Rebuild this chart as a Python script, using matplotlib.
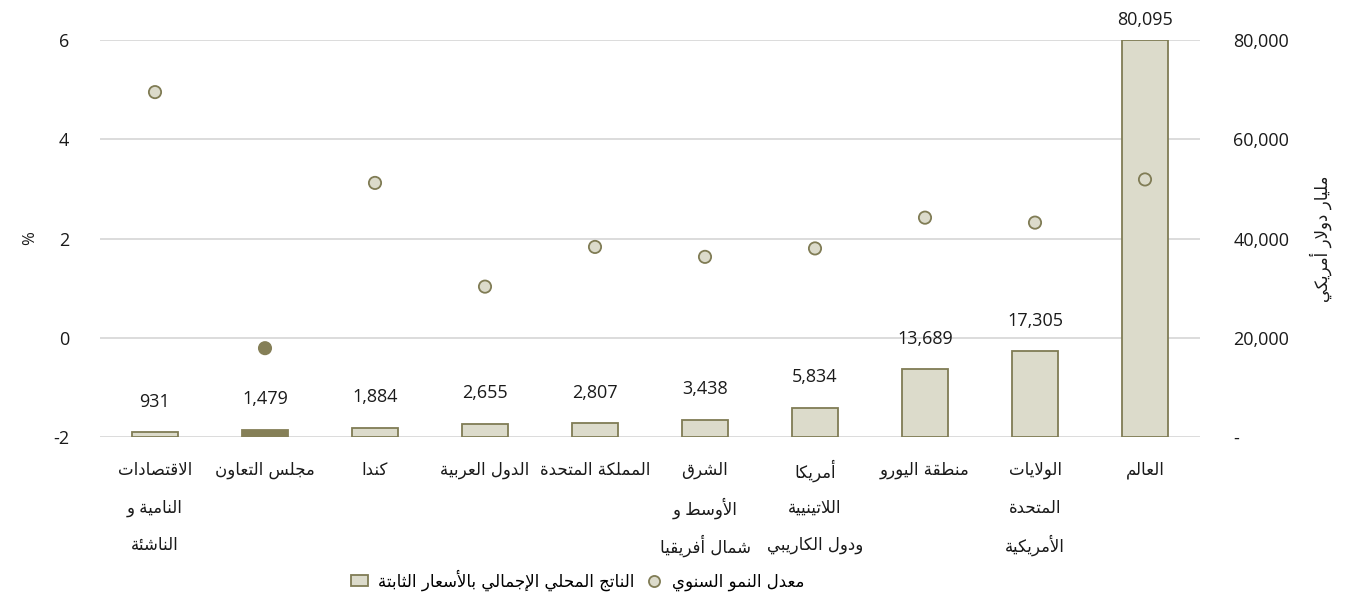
import matplotlib
matplotlib.use('Agg')
import matplotlib.pyplot as plt
from matplotlib.ticker import FuncFormatter
from matplotlib.patches import Patch
from matplotlib.lines import Line2D

# ── data ──
regions = [
    "الاقتصادات\nالنامية و\nالناشئة",
    "مجلس التعاون",
    "كندا",
    "الدول العربية",
    "المملكة المتحدة",
    "الشرق\nالأوسط و\nشمال أفريقيا",
    "أمريكا\nاللاتينيية\nودول الكاريبي",
    "منطقة اليورو",
    "الولايات\nالمتحدة\nالأمريكية",
    "العالم",
]
gdp_bn_usd = [931, 1479, 1884, 2655, 2807, 3438, 5834, 13689, 17305, 80095]
growth_pct = [4.95, -0.21, 3.12, 1.03, 1.83, 1.63, 1.80, 2.42, 2.32, 3.19]
highlight = "مجلس التعاون"

label_gdp = "الناتج المحلي الإجمالي بالأسعار الثابتة"
label_growth = "معدل النمو السنوي"
ylabel_left = "%"
ylabel_right = "مليار دولار أمريكي"

# ── arabic shaping (matplotlib has no bidi / joining) ──
_FORMS = {
    'ء': (0xFE80, 1), 'آ': (0xFE81, 2), 'أ': (0xFE83, 2), 'ؤ': (0xFE85, 2),
    'إ': (0xFE87, 2), 'ئ': (0xFE89, 4), 'ا': (0xFE8D, 2), 'ب': (0xFE8F, 4),
    'ة': (0xFE93, 2), 'ت': (0xFE95, 4), 'ث': (0xFE99, 4), 'ج': (0xFE9D, 4),
    'ح': (0xFEA1, 4), 'خ': (0xFEA5, 4), 'د': (0xFEA9, 2), 'ذ': (0xFEAB, 2),
    'ر': (0xFEAD, 2), 'ز': (0xFEAF, 2), 'س': (0xFEB1, 4), 'ش': (0xFEB5, 4),
    'ص': (0xFEB9, 4), 'ض': (0xFEBD, 4), 'ط': (0xFEC1, 4), 'ظ': (0xFEC5, 4),
    'ع': (0xFEC9, 4), 'غ': (0xFECD, 4), 'ف': (0xFED1, 4), 'ق': (0xFED5, 4),
    'ك': (0xFED9, 4), 'ل': (0xFEDD, 4), 'م': (0xFEE1, 4), 'ن': (0xFEE5, 4),
    'ه': (0xFEE9, 4), 'و': (0xFEED, 2), 'ى': (0xFEEF, 2), 'ي': (0xFEF1, 4),
}
_LAM_ALEF = {'آ': 0xFEF5, 'أ': 0xFEF7, 'إ': 0xFEF9, 'ا': 0xFEFB}


def shape_line(line):
    units = []
    i = 0
    while i < len(line):
        c = line[i]
        if c == 'ل' and i + 1 < len(line) and line[i + 1] in _LAM_ALEF:
            units.append((_LAM_ALEF[line[i + 1]], 2))
            i += 2
            continue
        units.append(_FORMS.get(c, c))
        i += 1
    out = []
    for k, u in enumerate(units):
        if isinstance(u, str):
            out.append(u)
            continue
        start, n = u
        prev = units[k - 1] if k > 0 else None
        nxt = units[k + 1] if k + 1 < len(units) else None
        jp = isinstance(prev, tuple) and prev[1] == 4
        jn = n == 4 and isinstance(nxt, tuple) and nxt[1] >= 2
        idx = 3 if (jp and jn) else 1 if jp else 2 if jn else 0
        if n == 1:
            idx = 0
        out.append(chr(start + idx))
    return ''.join(reversed(out))


def ar(s):
    return '\n'.join(shape_line(l) for l in s.split('\n'))


# ── style ──
C_BAR = '#dcdbcb'
C_EDGE = '#807c55'
C_DARK = '#857f57'
C_GRID = '#d9d9d9'
C_TEXT = '#1a1a1a'
NUM_FONT = ['Open Sans', 'DejaVu Sans']
AR_FONT = ['DejaVu Sans']
plt.rcParams['axes.unicode_minus'] = False

fig = plt.figure(figsize=(13.62, 5.96), dpi=100)
fig.patch.set_facecolor('white')
ax = fig.add_axes([100 / 1362, 1 - 437 / 596, 1100 / 1362, 397 / 596])
ax2 = ax.twinx()

x = list(range(len(regions)))

# bars on the right axis (behind), points on the left axis (front)
ax.set_zorder(ax2.get_zorder() + 1)
ax.patch.set_visible(False)

fills = [C_DARK if r == highlight else C_BAR for r in regions]
edges = [C_DARK if r == highlight else C_EDGE for r in regions]
ax2.bar(x, gdp_bn_usd, width=0.41, color=fills, edgecolor=edges, linewidth=1.3, zorder=2)
ax2.set_ylim(0, 80000)
ax2.set_yticks(range(0, 80001, 20000))
ax2.yaxis.set_major_formatter(FuncFormatter(lambda v, p: '-' if v == 0 else f'{v:,.0f}'))
ax2.grid(axis='y', color=C_GRID, lw=1.3)
ax2.set_axisbelow(True)

top = ax2.get_ylim()[1]
for i, v in zip(x, gdp_bn_usd):
    off = 14 if v >= top else 22
    ax2.annotate(f'{v:,}', (i, v), xytext=(0, off), textcoords='offset points',
                 ha='center', va='center', fontsize=13, color=C_TEXT,
                 family=NUM_FONT, annotation_clip=False)

pt_face = [C_DARK if r == highlight else C_BAR for r in regions]
pt_edge = [C_DARK if r == highlight else C_EDGE for r in regions]
ax.scatter(x, growth_pct, s=78, c=pt_face, edgecolors=pt_edge, linewidths=1.3, zorder=3)
ax.set_ylim(-2, 6)
ax.set_yticks([-2, 0, 2, 4, 6])
ax.set_xlim(-0.5, len(regions) - 0.5)
ax.set_xticks(x)
ax.set_xticklabels([])

# category labels, one text per line so the line pitch is even
for i, r in zip(x, regions):
    for j, line in enumerate(r.split('\n')):
        ax.annotate(shape_line(line), (i, 0), xycoords=('data', 'axes fraction'),
                    xytext=(0, -24 - 27 * j), textcoords='offset points',
                    ha='center', va='center', fontsize=12, color=C_TEXT,
                    family=AR_FONT, annotation_clip=False)

for a in (ax, ax2):
    for s in a.spines.values():
        s.set_visible(False)
    a.tick_params(length=0, colors=C_TEXT)
ax.tick_params(axis='y', labelsize=13, pad=22)
ax2.tick_params(axis='y', labelsize=13, pad=24)
for lab in ax.get_yticklabels() + ax2.get_yticklabels():
    lab.set_family(NUM_FONT)

ax.set_ylabel(ylabel_left, fontsize=12, color=C_TEXT, family=NUM_FONT)
ax.yaxis.set_label_coords(-62 / 1100, 0.5)
ax2.set_ylabel(ar(ylabel_right), fontsize=12, rotation=90,
               color=C_TEXT, family=AR_FONT)
ax2.yaxis.set_label_coords(1 + 110 / 1100, 0.5)

handles = [
    Patch(facecolor=C_BAR, edgecolor=C_EDGE, linewidth=1.3),
    Line2D([], [], ls='none', marker='o', ms=8, mfc=C_BAR, mec=C_EDGE, mew=1.3),
]
fig.legend(handles, [ar(label_gdp), ar(label_growth)], loc='center',
           bbox_to_anchor=(578 / 1362, 1 - 580 / 596), ncol=2, frameon=False,
           prop={'family': AR_FONT, 'size': 12}, handlelength=1.0,
           handletextpad=0.6, columnspacing=0.7)

fig.savefig('out.png', dpi=100, facecolor='white')
